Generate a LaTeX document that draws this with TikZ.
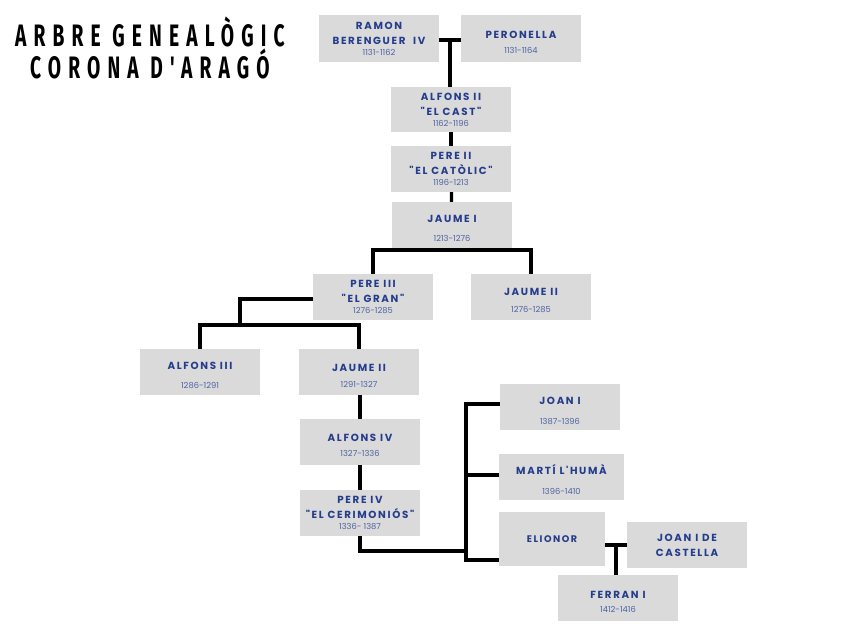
\documentclass[tikz,border=0pt]{standalone}
\usepackage{fontspec}
\usepackage{xcolor}
\usepackage{tikz}
\usetikzlibrary{calc}
\newfontfamily\titolfont[FakeStretch=0.62,LetterSpace=23]{Fira Sans}
\newfontfamily\nomfont[LetterSpace=16]{Poppins}
\newfontfamily\anysfont{Poppins}
\definecolor{grisos}{RGB}{218,218,218}
\definecolor{blaufosc}{RGB}{36,60,140}
\definecolor{blauclar}{RGB}{78,98,160}
\newcommand{\anys}[1]{{\anysfont\mdseries\fontsize{8.3}{10}\selectfont\color{blauclar}#1}}
\newcommand{\baixa}{\rule{0pt}{15pt}}

\begin{document}
\begin{tikzpicture}[x=1pt, y=-1pt, rei/.style={fill=grisos, inner sep=0, align=center, minimum width=120, minimum height=46, text=blaufosc, font=\nomfont\bfseries\fontsize{10.3}{15}\selectfont}, titol/.style={anchor=west, inner sep=0, font=\titolfont\bfseries\fontsize{31}{31}\selectfont}, lin/.style={line width=3.2pt}]
\useasboundingbox (0,0) rectangle (848,636);
% titol
\node[titol] (tit1) at (15,32) {ARBRE GENEALÒGIC};
\node[titol] (tit2) at (30,64) {CORONA D'ARAGÓ};
% reis
\node[rei, minimum height=47] (ramon) at (379,38.5) {RAMON\\BERENGUER\ \ IV\\[-4pt]\anys{1131-1162}};
\node[rei, minimum height=47] (peronella) at (521,38.5) {\baixa PERONELLA\\[0pt]\anys{1131-1164}};
\node[rei, minimum height=45] (alfonsii) at (451,109.5) {ALFONS II\\"EL CAST"\\[-4pt]\anys{1162-1196}};
\node[rei] (pereii) at (451,169) {PERE II\\"EL CATÒLIC"\\[-4pt]\anys{1196-1213}};
\node[rei] (jaumei) at (452,225) {\baixa JAUME I\\[4pt]\anys{1213-1276}};
\node[rei] (pereiii) at (373,297) {PERE III\\"EL GRAN"\\[-4pt]\anys{1276-1285}};
\node[rei] (jaumesic) at (531,297) {\baixa JAUME II\\[2pt]\anys{1276-1285}};
\node[rei] (alfonsiii) at (200,372) {\baixa ALFONS III\\[4pt]\anys{1286-1291}};
\node[rei] (jaumeii) at (359,372) {\baixa JAUME II\\[1pt]\anys{1291-1327}};
\node[rei] (alfonsiv) at (360,442) {\baixa ALFONS IV\\[0pt]\anys{1327-1336}};
\node[rei] (pereiv) at (360,513) {PERE IV\\"EL CERIMONIÓS"\\[-4pt]\anys{1336- 1387}};
\node[rei] (joani) at (560,407) {\baixa JOAN I\\[5pt]\anys{1387-1396}};
\node[rei, minimum width=125] (marti) at (561.5,477) {\baixa MARTÍ L'HUMÀ\\[5pt]\anys{1396-1410}};
\node[rei, minimum width=106, minimum height=54] (elionor) at (552,539) {\fontsize{9.6}{11}\selectfont ELIONOR};
\node[rei] (joancast) at (687,545) {JOAN I DE\\CASTELLA};
\node[rei] (ferrani) at (618,598) {\baixa FERRAN I\\[-1pt]\anys{1412-1416}};
% lligams
\coordinate (b1) at (452,250);
\coordinate (b2) at (240,325);
\coordinate (b3) at (466,551);
\coordinate (b4) at (466,560);
\draw[lin] (ramon.east |- 0,40) -- coordinate (m1) (peronella.west |- 0,40);
\draw[lin] (m1) -- (m1 |- alfonsii.north);
\draw[lin] (alfonsii) -- (pereii); \draw[lin] (pereii) -- (jaumei);
\draw[lin] (jaumei) -- (b1); \draw[lin] (pereiii.north) |- (b1) -| (jaumesic.north);
\draw[lin] (pereiii.west |- 0,299) -| (b2); \draw[lin] (alfonsiii.north) |- (b2) -| (jaumeii.north);
\draw[lin] (jaumeii.south -| alfonsiv) -- (alfonsiv); \draw[lin] (alfonsiv) -- (pereiv);
\draw[lin] (pereiv.south) |- (b3);
\draw[lin] (joani.west |- 0,404) -| (b4) -- (b4 -| elionor.west);
\draw[lin] (marti.west |- 0,475) -- (b4 |- 0,475);
\draw[lin] (elionor.east |- joancast.west) -- coordinate (m2) (joancast.west);
\draw[lin] (m2) -- (m2 |- ferrani.north);
\end{tikzpicture}
\end{document}
